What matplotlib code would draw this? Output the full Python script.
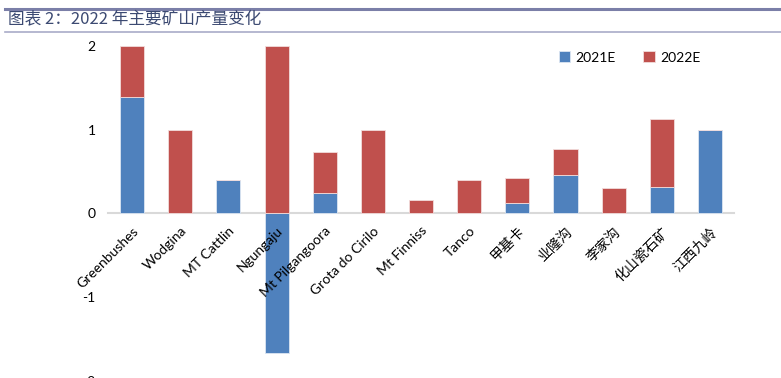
import matplotlib
matplotlib.use("Agg")
import matplotlib.pyplot as plt
import numpy as np

plt.rcParams['font.family'] = ['Lato', 'Noto Sans CJK SC', 'DejaVu Sans']

mines = ["Greenbushes", "Wodgina", "MT Cattlin", "Ngungaju", "Mt Pilgangoora",
         "Grota do Cirilo", "Mt Finniss", "Tanco", "甲基卡", "业隆沟", "李家沟",
         "化山瓷石矿", "江西九岭"]
e2021 = [1.39, 0, 0.40, -1.66, 0.24, 0, 0, 0, 0.12, 0.46, 0, 0.32, 1.0]
e2022 = [0.61, 1.0, 0, 2.0, 0.49, 1.0, 0.16, 0.40, 0.30, 0.31, 0.30, 0.81, 0]

blue = "#4F81BD"
red = "#C0504D"

fig = plt.figure(figsize=(7.81, 3.78), dpi=100)
ax = fig.add_axes([108 / 781, -0.0087, 626 / 781, 0.888])

x = np.arange(len(mines))
a = np.array(e2021)
b = np.array(e2022)
# stack like Excel: positives on positives, negatives below zero
base_b = np.where(b >= 0, np.clip(a, 0, None), np.clip(a, None, 0))
ax.bar(x, a, width=0.5, color=blue, edgecolor="#dce6f2", linewidth=0.6, label="2021E")
ax.bar(x, b, width=0.5, bottom=base_b, color=red, edgecolor="#f2dcdb", linewidth=0.6, label="2022E")

ax.set_xlim(-0.5, len(mines) - 0.5)
ax.set_ylim(-2, 2)
ax.set_yticks([-2, -1, 0, 1, 2])
ax.set_yticklabels(["-2", "-1", "0", "1", "2"])
ax.tick_params(axis="y", length=0, pad=9, labelsize=10, labelcolor="#000000")

for s in ["top", "right", "left"]:
    ax.spines[s].set_visible(False)
ax.spines["bottom"].set_position(("data", 0))
ax.spines["bottom"].set_color("#d9d9d9")
ax.spines["bottom"].set_linewidth(1.5)
ax.spines["bottom"].set_zorder(0.5)

ax.set_xticks(x)
ax.set_xticklabels(mines, rotation=45, ha="right", rotation_mode="anchor")
ax.tick_params(axis="x", length=0, pad=8, labelsize=10)

ax.legend(loc="upper left", bbox_to_anchor=(0.70, 1.02), ncol=2, frameon=False,
          fontsize=10, handlelength=0.8, handleheight=0.8, columnspacing=2.0,
          handletextpad=0.4)

# title band
fig.add_artist(plt.Line2D([5 / 781, 1], [1 - 9 / 378] * 2, color="#7b7fa8", lw=2.2))
fig.add_artist(plt.Line2D([5 / 781, 1], [1 - 32 / 378] * 2, color="#a9acc8", lw=1.2))
fig.text(8 / 781, 1 - 20 / 378, "图表 2：2022 年主要矿山产量变化", fontsize=12,
         color="#3c4a72", va="center", ha="left",
         family=["Noto Sans CJK SC", "DejaVu Sans"])

fig.savefig("out.png", dpi=100)
